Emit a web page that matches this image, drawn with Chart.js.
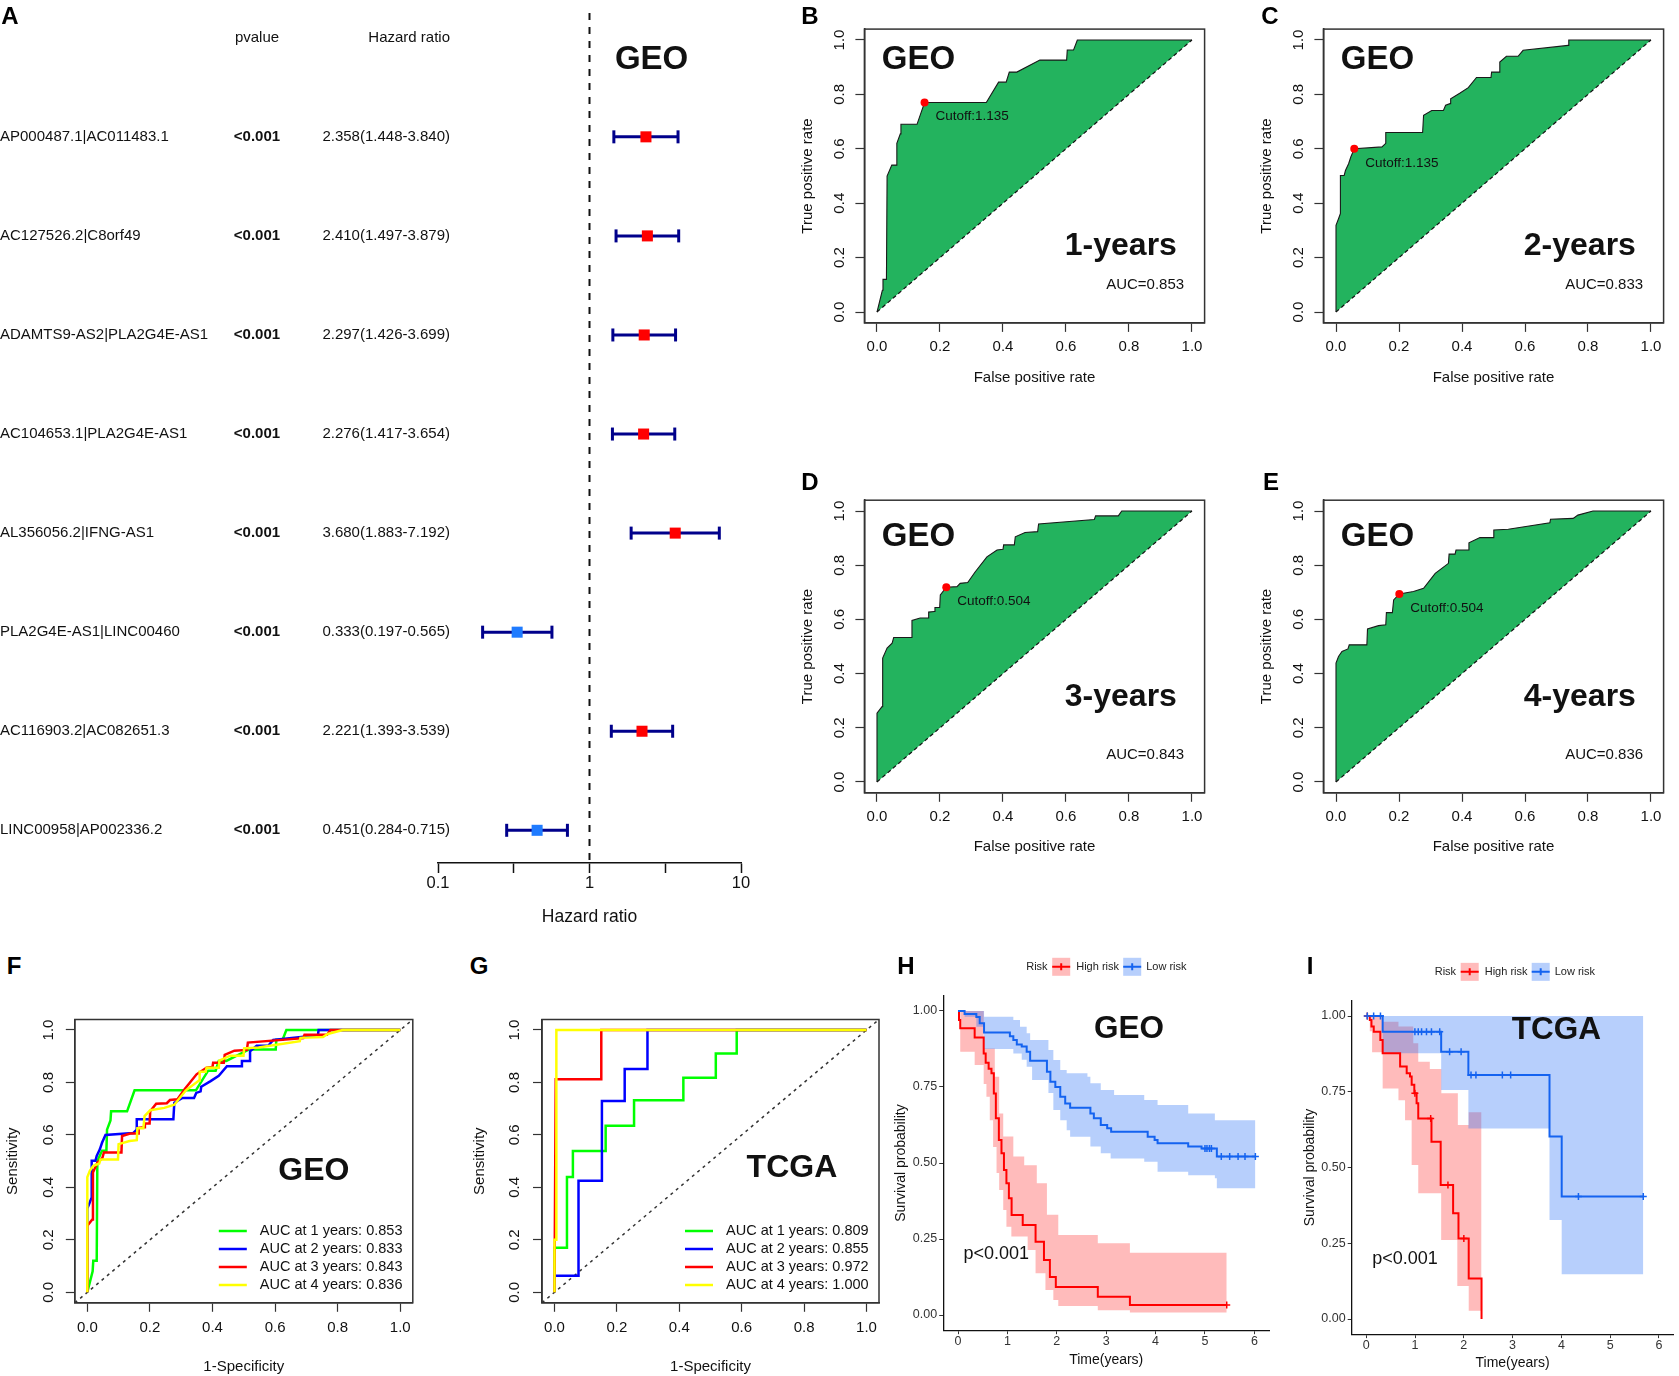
<!DOCTYPE html>
<html lang="en">
<head>
<meta charset="utf-8">
<title>lncRNA pair signature: forest plot, ROC and survival curves</title>
<script src="https://cdn.jsdelivr.net/npm/chart.js@4.4.1/dist/chart.umd.min.js"></script>
<style>
  html, body { margin: 0; padding: 0; background: #ffffff; }
  body { position: relative; width: 1679px; height: 1376px; overflow: hidden; }
  canvas { position: absolute; }
  .tag { position: absolute; font: bold 24px "Liberation Sans", Arial, sans-serif; line-height: 24px; transform: translate(-50%, -50%); color: #000; }
</style>
</head>
<body>
<canvas id="forest"></canvas>
<canvas id="roc1"></canvas>
<canvas id="roc2"></canvas>
<canvas id="roc3"></canvas>
<canvas id="roc4"></canvas>
<canvas id="geoRoc"></canvas>
<canvas id="tcgaRoc"></canvas>
<canvas id="geoKm"></canvas>
<canvas id="tcgaKm"></canvas>
<div class="tag" style="left:10px;top:16px">A</div>
<div class="tag" style="left:810px;top:16px">B</div>
<div class="tag" style="left:1270px;top:16px">C</div>
<div class="tag" style="left:810px;top:482px">D</div>
<div class="tag" style="left:1271px;top:482px">E</div>
<div class="tag" style="left:14px;top:966px">F</div>
<div class="tag" style="left:479px;top:966px">G</div>
<div class="tag" style="left:906px;top:966px">H</div>
<div class="tag" style="left:1310px;top:966px">I</div>
<script>
const FONT = '"Liberation Sans", Arial, Helvetica, sans-serif';
const INK = '#111111';
Chart.defaults.font.family = FONT;
Chart.defaults.color = INK;

// Panel A: univariate Cox results
const genes = ['AP000487.1|AC011483.1', 'AC127526.2|C8orf49', 'ADAMTS9-AS2|PLA2G4E-AS1', 'AC104653.1|PLA2G4E-AS1',
  'AL356056.2|IFNG-AS1', 'PLA2G4E-AS1|LINC00460', 'AC116903.2|AC082651.3', 'LINC00958|AP002336.2'];
const pvalues = ['<0.001', '<0.001', '<0.001', '<0.001', '<0.001', '<0.001', '<0.001', '<0.001'];
const hazard = [2.358, 2.410, 2.297, 2.276, 3.680, 0.333, 2.221, 0.451];
const hazardLow = [1.448, 1.497, 1.426, 1.417, 1.883, 0.197, 1.393, 0.284];
const hazardHigh = [3.840, 3.879, 3.699, 3.654, 7.192, 0.565, 3.539, 0.715];
const hazardTicks = [0.1, 0.316, 1, 3.16, 10];
const hazardTickLabels = ['0.1', '', '1', '', '10'];

// Panels B-E (and F): GEO time-dependent ROC, 1 to 4 years
const roc1Fpr = [0, 0.017, 0.019, 0.030, 0.032, 0.047, 0.061, 0.063, 0.074, 0.076, 0.127, 0.151, 0.347, 0.386, 0.410, 0.420, 0.444, 0.517, 0.602, 0.604, 0.624, 0.636, 1];
const roc1Tpr = [0, 0.080, 0.120, 0.120, 0.500, 0.540, 0.540, 0.620, 0.655, 0.690, 0.690, 0.770, 0.770, 0.845, 0.845, 0.882, 0.882, 0.926, 0.926, 0.963, 0.963, 1, 1];
const roc2Fpr = [0, 0, 0.008, 0.014, 0.014, 0.026, 0.030, 0.040, 0.047, 0.058, 0.146, 0.158, 0.158, 0.275, 0.278, 0.304, 0.341, 0.348, 0.362, 0.364, 0.394, 0.420, 0.446, 0.492, 0.494, 0.520, 0.520, 0.541, 0.578, 0.594, 0.737, 0.739, 1];
const roc2Tpr = [0, 0.319, 0.343, 0.362, 0.502, 0.502, 0.520, 0.545, 0.570, 0.600, 0.607, 0.620, 0.660, 0.660, 0.723, 0.741, 0.741, 0.760, 0.766, 0.784, 0.805, 0.825, 0.862, 0.862, 0.882, 0.882, 0.919, 0.940, 0.940, 0.962, 0.980, 1, 1];
const roc3Fpr = [0, 0, 0.016, 0.018, 0.032, 0.048, 0.053, 0.109, 0.111, 0.137, 0.162, 0.164, 0.182, 0.184, 0.199, 0.201, 0.220, 0.254, 0.264, 0.288, 0.312, 0.349, 0.381, 0.400, 0.402, 0.436, 0.439, 0.470, 0.510, 0.513, 0.690, 0.694, 0.766, 0.777, 1];
const roc3Tpr = [0, 0.254, 0.278, 0.457, 0.494, 0.512, 0.533, 0.533, 0.596, 0.605, 0.605, 0.627, 0.629, 0.644, 0.644, 0.690, 0.719, 0.721, 0.733, 0.736, 0.776, 0.831, 0.856, 0.859, 0.875, 0.875, 0.905, 0.921, 0.924, 0.952, 0.969, 0.982, 0.982, 1, 1];
const roc4Fpr = [0, 0, 0.008, 0.019, 0.038, 0.042, 0.098, 0.100, 0.135, 0.158, 0.160, 0.179, 0.183, 0.201, 0.246, 0.278, 0.315, 0.357, 0.359, 0.378, 0.381, 0.420, 0.422, 0.457, 0.499, 0.501, 0.547, 0.679, 0.681, 0.753, 0.768, 0.816, 1];
const roc4Tpr = [0, 0.439, 0.463, 0.482, 0.491, 0.506, 0.506, 0.565, 0.577, 0.580, 0.625, 0.625, 0.672, 0.694, 0.703, 0.715, 0.770, 0.807, 0.841, 0.841, 0.856, 0.856, 0.883, 0.902, 0.902, 0.930, 0.933, 0.957, 0.970, 0.973, 0.985, 1, 1];
const yearNames = ['1-years', '2-years', '3-years', '4-years'];
const geoAuc = ['0.853', '0.833', '0.843', '0.836'];
const cutoffs = ['1.135', '1.135', '0.504', '0.504'];
const cutoffFpr = [0.151, 0.058, 0.220, 0.201];
const cutoffTpr = [0.770, 0.600, 0.719, 0.694];
const unitTicks = [0, 0.2, 0.4, 0.6, 0.8, 1.0];

// Panel G: TCGA time-dependent ROC
const tcga1Fpr = [0, 0, 0.040, 0.040, 0.059, 0.059, 0.164, 0.164, 0.255, 0.255, 0.413, 0.413, 0.517, 0.517, 0.584, 0.584, 1];
const tcga1Tpr = [0, 0.170, 0.170, 0.440, 0.440, 0.539, 0.539, 0.635, 0.635, 0.732, 0.732, 0.818, 0.818, 0.910, 0.910, 1, 1];
const tcga2Fpr = [0, 0, 0.077, 0.077, 0.152, 0.152, 0.225, 0.225, 0.298, 0.298, 1];
const tcga2Tpr = [0, 0.063, 0.063, 0.425, 0.425, 0.729, 0.729, 0.851, 0.851, 1, 1];
const tcga3Fpr = [0, 0.004, 0.150, 0.150, 1];
const tcga3Tpr = [0, 0.812, 0.812, 1, 1];
const tcga4Fpr = [0, 0, 0.006, 0.006, 1];
const tcga4Tpr = [0, 0.200, 0.200, 1, 1];
const tcgaAuc = ['0.809', '0.855', '0.972', '1.000'];
const yearColors = ['#00FF00', '#0000FF', '#FF0000', '#FFFF00'];

// Panel H: GEO Kaplan-Meier (time in years)
const hHighT = [0, 0.02, 0.045, 0.337, 0.52, 0.56, 0.62, 0.677, 0.725, 0.766, 0.827, 0.88, 0.93, 0.98, 1.03, 1.085, 1.31, 1.57, 1.74, 1.86, 1.98, 2.83, 3.48, 5.44];
const hHighS = [1, 0.97, 0.943, 0.913, 0.86, 0.83, 0.81, 0.795, 0.729, 0.647, 0.576, 0.532, 0.477, 0.433, 0.384, 0.329, 0.296, 0.241, 0.181, 0.125, 0.092, 0.06, 0.033, 0.033];
const hHighUpT = [0, 0.52, 0.745, 0.833, 0.915, 1.12, 1.34, 1.595, 1.8, 2.03, 2.83, 3.48, 5.44];
const hHighUp = [1, 0.877, 0.784, 0.663, 0.587, 0.521, 0.493, 0.433, 0.33, 0.263, 0.236, 0.205, 0.205];
const hHighLoT = [0, 0.045, 0.337, 0.52, 0.575, 0.643, 0.71, 0.78, 0.833, 0.915, 0.98, 1.08, 1.41, 1.57, 1.77, 1.93, 2.03, 2.83, 3.48, 5.44];
const hHighLo = [1, 0.866, 0.822, 0.76, 0.718, 0.641, 0.553, 0.467, 0.411, 0.345, 0.29, 0.258, 0.214, 0.137, 0.082, 0.049, 0.03, 0.016, 0.008, 0.008];
const hHighCensT = [5.44];
const hHighCensS = [0.033];
const hLowT = [0, 0.133, 0.371, 0.439, 0.527, 1.05, 1.12, 1.19, 1.29, 1.39, 1.46, 1.8, 1.87, 1.97, 2.07, 2.17, 2.27, 2.68, 2.75, 2.89, 3.02, 3.1, 3.84, 3.98, 4.04, 4.66, 4.93, 5.24, 6.02];
const hLowS = [1, 0.99, 0.98, 0.96, 0.929, 0.917, 0.905, 0.89, 0.883, 0.866, 0.836, 0.80, 0.767, 0.75, 0.718, 0.696, 0.682, 0.663, 0.647, 0.625, 0.614, 0.603, 0.586, 0.576, 0.565, 0.554, 0.548, 0.521, 0.521];
const hLowUpT = [0, 0.527, 1.12, 1.255, 1.39, 1.46, 1.83, 1.93, 2.07, 2.2, 2.62, 2.68, 2.89, 3.16, 3.77, 4.04, 4.66, 5.2, 6.02];
const hLowUp = [1, 0.981, 0.97, 0.948, 0.927, 0.905, 0.872, 0.839, 0.806, 0.795, 0.784, 0.762, 0.74, 0.724, 0.707, 0.691, 0.663, 0.641, 0.641];
const hLowLoT = [0, 0.133, 0.371, 0.527, 1.12, 1.29, 1.39, 1.5, 1.83, 1.93, 2.07, 2.2, 2.27, 2.68, 2.89, 3.09, 3.77, 4.04, 4.66, 5.2, 5.24, 6.02];
const hLowLo = [1, 0.981, 0.948, 0.875, 0.86, 0.84, 0.817, 0.773, 0.73, 0.674, 0.641, 0.608, 0.586, 0.554, 0.532, 0.515, 0.504, 0.471, 0.46, 0.45, 0.417, 0.417];
const hLowCensT = [5.0, 5.04, 5.09, 5.13, 5.33, 5.5, 5.67, 5.81, 6.02];
const hLowCensS = [0.548, 0.548, 0.548, 0.548, 0.521, 0.521, 0.521, 0.521, 0.521];

// Panel I: TCGA Kaplan-Meier
const iHighT = [0, 0.071, 0.105, 0.152, 0.287, 0.335, 0.693, 0.828, 0.896, 0.93, 0.984, 1.031, 1.065, 1.336, 1.525, 1.78, 1.89, 2.10, 2.363];
const iHighS = [1, 0.987, 0.965, 0.948, 0.921, 0.877, 0.833, 0.811, 0.8, 0.773, 0.745, 0.712, 0.662, 0.585, 0.442, 0.349, 0.266, 0.134, 0];
const iHighUpT = [0, 0.335, 0.659, 0.963, 1.065, 1.302, 1.539, 1.877, 2.10, 2.363];
const iHighUp = [1, 0.981, 0.965, 0.91, 0.849, 0.825, 0.745, 0.64, 0.682, 0.682];
const iHighLoT = [0, 0.071, 0.118, 0.335, 0.659, 0.794, 0.93, 1.065, 1.535, 1.866, 2.10, 2.363];
const iHighLo = [1, 0.95, 0.88, 0.761, 0.722, 0.656, 0.508, 0.415, 0.261, 0.109, 0.027, 0];
const iHighCensT = [0.02, 0.996, 1.32, 1.674, 2.0];
const iHighCensS = [1, 0.745, 0.662, 0.442, 0.266];
const iLowT = [0, 0.335, 1.535, 2.093, 3.757, 4.007, 5.68];
const iLowS = [1, 0.948, 0.882, 0.805, 0.602, 0.404, 0.404];
const iLowUpT = [0, 5.68];
const iLowUp = [1, 1];
const iLowLoT = [0, 0.335, 1.535, 2.093, 3.757, 4.007, 5.68];
const iLowLo = [1, 0.877, 0.756, 0.629, 0.327, 0.148, 0.148];
const iLowCensT = [0.02, 0.15, 0.29, 0.996, 1.065, 1.133, 1.234, 1.336, 1.505, 1.708, 1.944, 2.147, 2.248, 2.79, 2.96, 4.35, 5.68];
const iLowCensS = [1, 1, 1, 0.948, 0.948, 0.948, 0.948, 0.948, 0.948, 0.882, 0.882, 0.805, 0.805, 0.805, 0.805, 0.404, 0.404];
const kmYears = [0, 1, 2, 3, 4, 5, 6];
const kmProbTicks = [0, 0.25, 0.5, 0.75, 1];
const riskGroups = ['High risk', 'Low risk'];

const RED = '#FF0000';
const BLUE = '#1463F0';
const RED_BAND = 'rgba(255, 30, 30, 0.30)';
const BLUE_BAND = 'rgba(36, 110, 245, 0.33)';
const GREEN = '#23B35E';

const pts = (xs, ys) => xs.map((v, i) => ({ x: v, y: ys[i] }));
const font = (size, bold) => (bold ? 'bold ' : '') + size + 'px ' + FONT;

// text drawn at data coordinates (x/y) or canvas pixels (px/py)
function notes(items) {
  return {
    id: 'notes',
    afterDatasetsDraw(chart) {
      const { ctx, scales } = chart;
      ctx.save();
      ctx.textBaseline = 'middle';
      items.forEach(n => {
        const x = n.px !== undefined ? n.px : scales.x.getPixelForValue(n.x);
        const y = n.py !== undefined ? n.py : scales.y.getPixelForValue(n.y);
        ctx.font = n.font;
        ctx.fillStyle = n.color || INK;
        ctx.textAlign = n.align || 'left';
        ctx.fillText(n.text, x + (n.dx || 0), y + (n.dy || 0));
      });
      ctx.restore();
    }
  };
}

const framePlugin = {
  id: 'frame',
  afterDraw(chart) {
    const { ctx, chartArea: a } = chart;
    ctx.save();
    ctx.strokeStyle = '#333';
    ctx.lineWidth = 1.5;
    ctx.strokeRect(a.left, a.top, a.right - a.left, a.bottom - a.top);
    ctx.restore();
  }
};

function aucLegend(labels) {
  return {
    id: 'aucLegend',
    afterDatasetsDraw(chart) {
      const { ctx, chartArea: a } = chart;
      ctx.save();
      ctx.font = font(14.5);
      ctx.textAlign = 'left';
      ctx.textBaseline = 'middle';
      labels.forEach((t, i) => {
        const y = a.bottom - 71.8 + i * 18;
        ctx.strokeStyle = yearColors[i];
        ctx.lineWidth = 2.5;
        ctx.beginPath();
        ctx.moveTo(a.right - 194, y);
        ctx.lineTo(a.right - 166, y);
        ctx.stroke();
        ctx.fillStyle = INK;
        ctx.fillText(t, a.right - 153, y);
      });
      ctx.restore();
    }
  };
}

const riskLegend = {
  id: 'riskLegend',
  afterDraw(chart) {
    const { ctx, chartArea: a } = chart;
    const y = a.top - 29;
    ctx.save();
    ctx.font = font(11);
    ctx.textAlign = 'left';
    ctx.textBaseline = 'middle';
    ctx.fillStyle = '#222';
    ctx.fillText('Risk', a.left + 83, y);
    const keys = [[109, 133, RED, RED_BAND], [180, 203, BLUE, BLUE_BAND]];
    keys.forEach(([kx, tx, line, band], i) => {
      ctx.fillStyle = band;
      ctx.fillRect(a.left + kx, y - 9, 18, 18);
      ctx.strokeStyle = line;
      ctx.lineWidth = 2;
      ctx.beginPath();
      ctx.moveTo(a.left + kx, y);
      ctx.lineTo(a.left + kx + 18, y);
      ctx.moveTo(a.left + kx + 9, y - 3.5);
      ctx.lineTo(a.left + kx + 9, y + 3.5);
      ctx.stroke();
      ctx.fillStyle = '#222';
      ctx.fillText(riskGroups[i], a.left + tx, y);
    });
    ctx.restore();
  }
};

// put a chart on the page so that its plot area lands on "area" (page pixels)
function place(id, rect, area, cfg, plugins) {
  const canvas = document.getElementById(id);
  canvas.width = rect.w;
  canvas.height = rect.h;
  canvas.style.left = rect.x + 'px';
  canvas.style.top = rect.y + 'px';
  const sx = cfg.options.scales.x;
  const sy = cfg.options.scales.y;
  const yHidden = sy.display === false;
  const yWidth = area.l - rect.x;
  const xHeight = rect.y + rect.h - area.b;
  sx.afterFit = s => { s.height = xHeight; s.paddingLeft = 0; s.paddingRight = 0; };
  if (!yHidden) sy.afterFit = s => { s.width = yWidth; s.paddingTop = 0; s.paddingBottom = 0; };
  Object.assign(cfg.options, {
    responsive: false,
    animation: false,
    events: [],
    layout: { padding: { left: yHidden ? yWidth : 0, top: area.t - rect.y, right: rect.x + rect.w - area.r, bottom: 0 } },
    plugins: { legend: { display: false }, tooltip: { enabled: false }, colors: { enabled: false } }
  });
  cfg.plugins = plugins;
  return new Chart(canvas, cfg);
}

function unitAxis(title, vertical, tickPad, titlePad) {
  return {
    type: 'linear', min: -0.04, max: 1.04,
    afterBuildTicks: s => { s.ticks = unitTicks.map(v => ({ value: v })); },
    ticks: {
      autoSkip: false, padding: tickPad, color: INK, font: { size: 15 },
      minRotation: vertical ? 90 : 0, maxRotation: vertical ? 90 : 0,
      crossAlign: vertical ? 'center' : 'near',
      callback: v => v.toFixed(1)
    },
    grid: { drawOnChartArea: false, tickLength: 9, tickColor: '#333', tickWidth: 1.2 },
    border: { color: '#333', width: 1.5 },
    title: { display: true, text: title, color: INK, font: { size: 15 }, padding: titlePad }
  };
}

// ---- A: forest plot
place('forest', { x: 0, y: 0, w: 780, h: 940 }, { l: 438, r: 741, t: 13, b: 863 }, {
  type: 'line',
  data: {
    datasets: [
      {
        data: pts(hazard, hazard.map((v, i) => i)), showLine: false,
        pointStyle: 'rect', pointRadius: 7.8, pointBorderWidth: 0,
        pointBackgroundColor: hazard.map(v => (v > 1 ? RED : '#1F7BFF'))
      },
      ...genes.map((g, i) => ({
        data: [{ x: hazardLow[i], y: i }, { x: hazardHigh[i], y: i }],
        borderColor: '#00008B', borderWidth: 3,
        pointStyle: 'line', pointRotation: 90, pointRadius: 6.5,
        pointBorderColor: '#00008B', pointBorderWidth: 3
      })),
      { data: [{ x: 1, y: -1.25 }, { x: 1, y: 7.33 }], borderColor: INK, borderWidth: 2, borderDash: [7, 7], pointRadius: 0 }
    ]
  },
  options: {
    scales: {
      x: {
        type: 'logarithmic', min: 0.1, max: 10,
        afterBuildTicks: s => { s.ticks = hazardTicks.map(v => ({ value: v })); },
        ticks: { autoSkip: false, maxRotation: 0, padding: 1, color: INK, font: { size: 16.5 }, callback: (v, i) => hazardTickLabels[i] },
        grid: { drawOnChartArea: false, tickLength: 10, tickColor: INK, tickWidth: 1.5 },
        border: { color: INK, width: 1.5 },
        title: { display: true, text: 'Hazard ratio', color: INK, font: { size: 17.5 }, padding: { top: 0, bottom: 12.5 } }
      },
      y: { type: 'linear', reverse: true, min: -1.25, max: 7.33, display: false }
    }
  }
}, [notes([
  { text: 'pvalue', px: 257, y: -1, align: 'center', font: font(15) },
  { text: 'Hazard ratio', px: 450, y: -1, align: 'right', font: font(15) },
  { text: 'GEO', x: 2.57, y: -0.78, align: 'center', font: font(33, true) },
  ...genes.map((g, i) => ({ text: g, px: 0, y: i, font: font(15) })),
  ...pvalues.map((p, i) => ({ text: p, px: 257, y: i, align: 'center', font: font(15, true) })),
  ...hazard.map((h, i) => ({
    text: h.toFixed(3) + '(' + hazardLow[i].toFixed(3) + '-' + hazardHigh[i].toFixed(3) + ')',
    px: 450, y: i, align: 'right', font: font(15)
  }))
])]);

// ---- B-E: single ROC curves with cutoff
const rocFprs = [roc1Fpr, roc2Fpr, roc3Fpr, roc4Fpr];
const rocTprs = [roc1Tpr, roc2Tpr, roc3Tpr, roc4Tpr];
const rocPanels = [
  { id: 'roc1', rect: { x: 795, y: 0, w: 430, h: 395 }, area: { l: 864.4, r: 1204.6, t: 29.1, b: 322.9 }, geoY: 0.926, yearY: 0.243, pt: 4, pb: 8 },
  { id: 'roc2', rect: { x: 1254, y: 0, w: 425, h: 395 }, area: { l: 1323.4, r: 1663.6, t: 29.1, b: 322.9 }, geoY: 0.926, yearY: 0.243, pt: 3.7, pb: 8 },
  { id: 'roc3', rect: { x: 795, y: 440, w: 430, h: 426 }, area: { l: 864.4, r: 1204.6, t: 500.2, b: 792.8 }, geoY: 0.904, yearY: 0.312, pt: 4, pb: 10 },
  { id: 'roc4', rect: { x: 1254, y: 440, w: 425, h: 426 }, area: { l: 1323.4, r: 1663.6, t: 500.2, b: 792.8 }, geoY: 0.904, yearY: 0.312, pt: 3.7, pb: 10 }
];
rocPanels.forEach((p, k) => {
  place(p.id, p.rect, p.area, {
    type: 'line',
    data: {
      datasets: [
        { data: [{ x: cutoffFpr[k], y: cutoffTpr[k] }], showLine: false, pointRadius: 4, pointBackgroundColor: RED, pointBorderWidth: 0 },
        { data: [{ x: 0, y: 0 }, { x: 1, y: 1 }], borderColor: INK, borderWidth: 1.2, borderDash: [4, 3], pointRadius: 0 },
        { data: pts(rocFprs[k], rocTprs[k]), borderColor: '#1a1a1a', borderWidth: 1.1, pointRadius: 0, fill: '-1', backgroundColor: GREEN }
      ]
    },
    options: {
      scales: {
        x: unitAxis('False positive rate', false, 6, { top: 0, bottom: p.pb }),
        y: unitAxis('True positive rate', true, 5, { top: p.pt, bottom: 0 })
      }
    }
  }, [framePlugin, notes([
    { text: 'GEO', x: 0.015, y: p.geoY, font: font(33, true) },
    { text: yearNames[k], x: 0.952, y: p.yearY, align: 'right', font: font(32, true) },
    { text: 'AUC=' + geoAuc[k], x: 0.975, y: 0.10, align: 'right', font: font(15) },
    { text: 'Cutoff:' + cutoffs[k], x: cutoffFpr[k], y: cutoffTpr[k], dx: 11, dy: 14, font: font(13.5) }
  ])]);
});

// ---- F, G: ROC at 1-4 years
function multiRoc(id, rect, area, fprs, tprs, aucs, tag, tagX, tagY, tickPadY) {
  const curves = fprs.map((f, i) => ({
    data: pts(f, tprs[i]), borderColor: yearColors[i], borderWidth: 2.5, pointRadius: 0, order: 4 - i
  }));
  curves.push({ data: [{ x: -0.04, y: -0.04 }, { x: 1.04, y: 1.04 }], borderColor: '#333', borderWidth: 1.5, borderDash: [3, 4], pointRadius: 0, order: 5 });
  place(id, rect, area, {
    type: 'line',
    data: { datasets: curves },
    options: {
      scales: {
        x: unitAxis('1-Specificity', false, 7, { top: 0, bottom: 0 }),
        y: unitAxis('Sensitivity', true, tickPadY, { top: 4, bottom: 0 })
      }
    }
  }, [framePlugin, aucLegend(aucs.map((a, i) => 'AUC at ' + (i + 1) + ' years: ' + a)), notes([
    { text: tag, x: tagX, y: tagY, align: 'center', font: font(32, true) }
  ])]);
}
multiRoc('geoRoc', { x: 0, y: 1000, w: 430, h: 376 }, { l: 74.8, r: 412.8, t: 1019.5, b: 1302.8 },
  rocFprs, rocTprs, geoAuc, 'GEO', 0.724, 0.462, 6.4);
multiRoc('tcgaRoc', { x: 467, y: 1000, w: 428, h: 376 }, { l: 542, r: 879, t: 1019.5, b: 1302.8 },
  [tcga1Fpr, tcga2Fpr, tcga3Fpr, tcga4Fpr], [tcga1Tpr, tcga2Tpr, tcga3Tpr, tcga4Tpr], tcgaAuc, 'TCGA', 0.761, 0.474, 7.6);

// ---- H, I: Kaplan-Meier curves with confidence bands
function stepSet(t, s, color, width) {
  return { data: pts(t, s), stepped: true, borderColor: color, borderWidth: width, pointRadius: 0 };
}
function kmPanel(id, rect, area, high, low, tag, tagX, tagY, pX, pY, titlePad) {
  const censor = (t, s, color) => ({
    data: pts(t, s), showLine: false, pointStyle: 'cross', pointRadius: 3.5, pointBorderColor: color, pointBorderWidth: 1.5
  });
  const band = (t, v, color, fill) => Object.assign(stepSet(t, v, 'transparent', 0), fill ? { fill: '+1', backgroundColor: color } : {});
  place(id, rect, area, {
    type: 'line',
    data: {
      datasets: [
        censor(low.ct, low.cs, BLUE),
        censor(high.ct, high.cs, RED),
        stepSet(low.t, low.s, BLUE, 2),
        stepSet(high.t, high.s, RED, 2),
        band(low.upT, low.up, BLUE_BAND, true),
        band(low.loT, low.lo, BLUE_BAND, false),
        band(high.upT, high.up, RED_BAND, true),
        band(high.loT, high.lo, RED_BAND, false)
      ]
    },
    options: {
      scales: {
        x: {
          type: 'linear', min: -0.3, max: 6.3,
          afterBuildTicks: s => { s.ticks = kmYears.map(v => ({ value: v })); },
          ticks: { autoSkip: false, maxRotation: 0, padding: 0, color: '#333', font: { size: 12.5 } },
          grid: { drawOnChartArea: false, tickLength: 4, tickColor: '#333', tickWidth: 1 },
          border: { color: '#111', width: 1.3 },
          title: { display: true, text: 'Time(years)', color: INK, font: { size: 14 }, padding: { top: 0, bottom: titlePad } }
        },
        y: {
          type: 'linear', min: -0.05, max: 1.05,
          afterBuildTicks: s => { s.ticks = kmProbTicks.map(v => ({ value: v })); },
          ticks: { autoSkip: false, padding: 2, color: '#333', font: { size: 12.5 }, callback: v => v.toFixed(2) },
          grid: { drawOnChartArea: false, tickLength: 4, tickColor: '#333', tickWidth: 1 },
          border: { color: '#111', width: 1.3 },
          title: { display: true, text: 'Survival probability', color: INK, font: { size: 14 }, padding: { top: 2.4, bottom: 0 } }
        }
      }
    }
  }, [riskLegend, notes([
    { text: tag, x: tagX, y: tagY, align: 'center', font: font(31.5, true) },
    { text: 'p<0.001', x: pX, y: pY, font: font(18) }
  ])]);
}
kmPanel('geoKm', { x: 890, y: 945, w: 400, h: 431 }, { l: 943.2, r: 1269.2, t: 995.8, b: 1330.2 },
  { t: hHighT, s: hHighS, upT: hHighUpT, up: hHighUp, loT: hHighLoT, lo: hHighLo, ct: hHighCensT, cs: hHighCensS },
  { t: hLowT, s: hLowS, upT: hLowUpT, up: hLowUp, loT: hLowLoT, lo: hLowLo, ct: hLowCensT, cs: hLowCensS },
  'GEO', 3.46, 0.94, 0.11, 0.2, 7.6);
kmPanel('tcgaKm', { x: 1299, y: 945, w: 380, h: 431 }, { l: 1351.7, r: 1677, t: 1000.85, b: 1334.15 },
  { t: iHighT, s: iHighS, upT: iHighUpT, up: iHighUp, loT: iHighLoT, lo: iHighLo, ct: iHighCensT, cs: iHighCensS },
  { t: iLowT, s: iLowS, upT: iLowUpT, up: iLowUp, loT: iLowLoT, lo: iLowLo, ct: iLowCensT, cs: iLowCensS },
  'TCGA', 3.9, 0.954, 0.12, 0.198, 4.9);
</script>
</body>
</html>
